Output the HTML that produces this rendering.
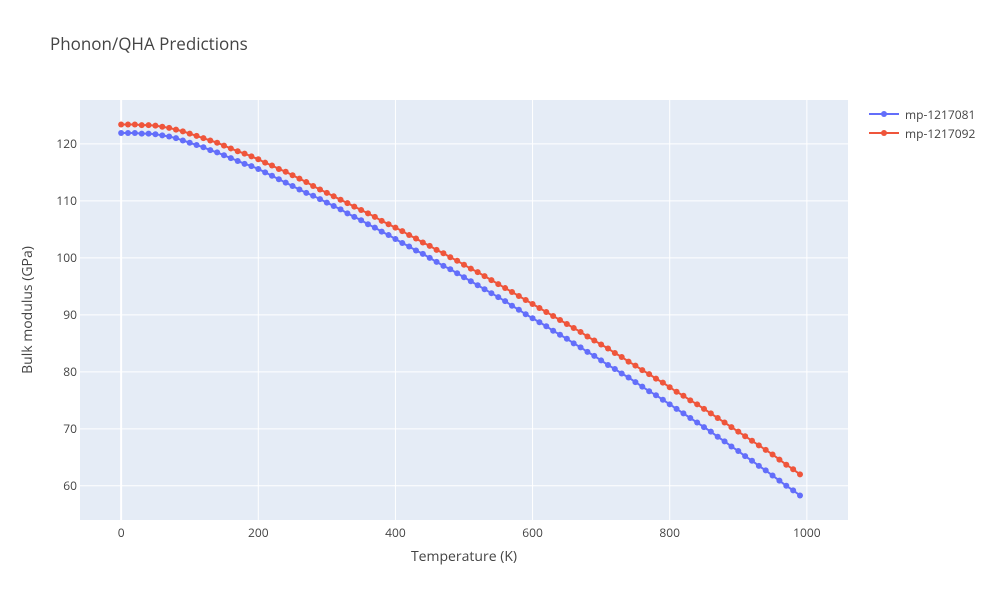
<!DOCTYPE html>
<html><head><meta charset="utf-8"><style>
body{margin:0;background:#fff;}
svg text{font-family:"Open Sans","Liberation Sans",sans-serif;}
</style></head><body>
<svg id="chart" width="1000" height="600" xmlns="http://www.w3.org/2000/svg">
<rect width="1000" height="600" fill="#fff"/>
<text x="50" y="50" font-size="17" fill="#444">Phonon/QHA Predictions</text>
<rect x="80" y="100" width="768" height="420" fill="#E5ECF6"/>
<g id="grid"></g>
<g id="series"></g>
<text x="464" y="561" font-size="14" fill="#444" text-anchor="middle">Temperature (K)</text>
<text x="32" y="310" font-size="14" fill="#444" text-anchor="middle" transform="rotate(-90 32 310)">Bulk modulus (GPa)</text>
<g>
<g>
<line x1="869" y1="114" x2="899" y2="114" stroke="#636EFA" stroke-width="2"/><circle cx="884" cy="114" r="3" fill="#636EFA"/>
<text x="905" y="119" font-size="12" fill="#444">mp-1217081</text></g>
<g>
<line x1="869" y1="133" x2="899" y2="133" stroke="#EF553B" stroke-width="2"/><circle cx="884" cy="133" r="3" fill="#EF553B"/>
<text x="905" y="138" font-size="12" fill="#444">mp-1217092</text></g>
</g>
</svg>
<script>
const xTicks=[0,200,400,600,800,1000];
const yTicks=[60,70,80,90,100,110,120];
const temps=[];for(let t=0;t<=990;t+=10)temps.push(t);
const blueVals=[121.9,121.9,121.9,121.8,121.8,121.7,121.5,121.3,121.0,120.6,120.2,119.8,119.4,118.9,118.5,118.0,117.5,117.0,116.5,116.1,115.6,115.0,114.4,113.8,113.2,112.6,112.0,111.4,110.9,110.3,109.7,109.1,108.5,107.8,107.2,106.6,105.9,105.3,104.6,104.0,103.3,102.6,102.0,101.3,100.7,100.0,99.3,98.6,98.0,97.3,96.6,95.9,95.2,94.5,93.8,93.1,92.4,91.6,90.9,90.1,89.4,88.7,88.0,87.2,86.5,85.8,85.0,84.3,83.5,82.8,82.0,81.2,80.5,79.7,79.0,78.2,77.4,76.6,75.9,75.1,74.3,73.5,72.7,71.9,71.1,70.3,69.5,68.6,67.8,66.9,66.1,65.2,64.4,63.5,62.7,61.8,60.9,60.0,59.2,58.3];
const redVals=[123.4,123.4,123.4,123.3,123.3,123.2,123.0,122.8,122.5,122.2,121.8,121.4,121.0,120.6,120.2,119.7,119.2,118.7,118.3,117.8,117.3,116.7,116.2,115.6,115.1,114.5,113.9,113.3,112.6,112.0,111.4,110.8,110.2,109.6,109.0,108.4,107.8,107.2,106.5,105.9,105.3,104.7,104.0,103.4,102.7,102.1,101.4,100.8,100.1,99.5,98.8,98.1,97.5,96.8,96.1,95.4,94.7,94.0,93.3,92.6,91.9,91.2,90.5,89.8,89.1,88.4,87.7,87.0,86.2,85.5,84.8,84.1,83.3,82.6,81.8,81.1,80.3,79.6,78.8,78.1,77.3,76.5,75.8,75.0,74.3,73.5,72.7,71.9,71.1,70.3,69.5,68.7,67.9,67.1,66.3,65.5,64.6,63.7,62.9,62.0];
const seriesNames=["mp-1217081","mp-1217092"];
const colors=["#636EFA","#EF553B"];
const X0=80,X1=848,Y0=100,Y1=520,xMin=-60,xMax=1060,yMin=54.0,yMax=127.7;
const sx=v=>X0+(v-xMin)/(xMax-xMin)*(X1-X0);
const sy=v=>Y1-(v-yMin)/(yMax-yMin)*(Y1-Y0);
const NS="http://www.w3.org/2000/svg";
const grid=document.getElementById('grid'),svg=document.getElementById('chart'),ser=document.getElementById('series');
function mk(tag,attrs,parent){const e=document.createElementNS(NS,tag);for(const k in attrs)e.setAttribute(k,attrs[k]);parent.appendChild(e);return e;}
xTicks.forEach(t=>{
 const x=sx(t);
 if(x<=X1){const l=mk('line',{x1:x,x2:x,y1:Y0,y2:Y1,stroke:'#fff','stroke-width':t===0?2:1},grid);
 
 
 const tx=mk('text',{x:x,y:Y1+17,'font-size':12,fill:'#444','text-anchor':'middle'},svg);tx.textContent=t;
 
 }
});
yTicks.forEach(t=>{
 const y=sy(t);
 const l=mk('line',{x1:X0,x2:X1,y1:y,y2:y,stroke:'#fff','stroke-width':1},grid);
 
 
 const tx=mk('text',{x:X0-3,y:y+4,'font-size':12,fill:'#444','text-anchor':'end'},svg);tx.textContent=t;
 
 
});
[blueVals,redVals].forEach((vals,i)=>{
 const g=mk('g',{},ser);
 
 
 const pts=vals.map((v,j)=>sx(temps[j])+','+sy(v)).join(' ');
 const pl=mk('polyline',{points:pts,fill:'none',stroke:colors[i],'stroke-width':2},g);
 
 
 vals.forEach((v,j)=>{const c=mk('circle',{cx:sx(temps[j]),cy:sy(v),r:3,fill:colors[i]},g);
  
  });
});
</script>
</body></html>
